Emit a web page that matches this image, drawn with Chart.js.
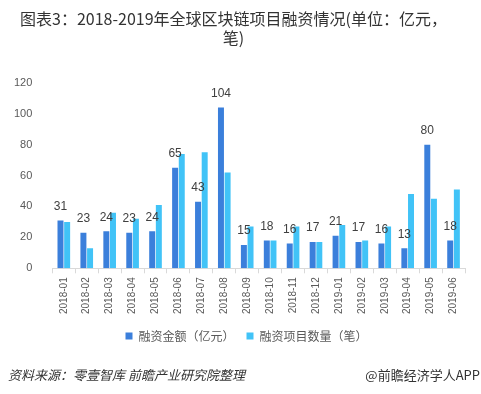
<!DOCTYPE html>
<html>
<head>
<meta charset="utf-8">
<script src="https://cdn.jsdelivr.net/npm/chart.js@4"></script>
<style>
  body { margin: 0; background: #fff; }
  #wrap { position: relative; width: 481px; height: 394px; }
  #source { position: absolute; left: 8px; top: 365px; font: italic 13px "Noto Sans CJK SC", sans-serif; color: #333; }
  #brand { position: absolute; right: 1px; top: 365px; font: 13px "Noto Sans CJK SC", sans-serif; color: #333; }
</style>
</head>
<body>
<div id="wrap">
  <canvas id="myChart" width="481" height="394"></canvas>
  <div id="source">资料来源：零壹智库 前瞻产业研究院整理</div>
  <div id="brand">@前瞻经济学人APP</div>
</div>
<script>
var months = ['2018-01', '2018-02', '2018-03', '2018-04', '2018-05', '2018-06', '2018-07', '2018-08', '2018-09',
    '2018-10', '2018-11', '2018-12', '2019-01', '2019-02', '2019-03', '2019-04', '2019-05', '2019-06'];
var amount = [31, 23, 24, 23, 24, 65, 43, 104, 15, 18, 16, 17, 21, 17, 16, 13, 80, 18];
var projects = [30, 13, 36, 32, 41, 74, 75, 62, 27, 18, 27, 17, 28, 18, 27, 48, 45, 51];
var yTicks = [0, 20, 40, 60, 80, 100, 120];

var seriesNames = ['融资金额（亿元）', '融资项目数量（笔）'];
var fontFamily = '"Noto Sans CJK SC", sans-serif';
var numFont = '"Liberation Sans", Arial, sans-serif';

// numbers above the dark bars only
var barLabels = {
    id: 'barLabels',
    afterDatasetsDraw: function (chart) {
        var ctx = chart.ctx;
        var meta = chart.getDatasetMeta(0);
        ctx.save();
        ctx.font = '12px ' + numFont;
        ctx.fillStyle = '#404040';
        ctx.textAlign = 'center';
        ctx.textBaseline = 'bottom';
        meta.data.forEach(function (bar, i) {
            ctx.fillText(amount[i], bar.x, bar.y - 8);
        });
        ctx.restore();
    }
};

// nudge the legend a bit right, it sits centred on the page in the original
var legendShift = {
    id: 'legendShift',
    afterLayout: function (chart) {
        chart.legend.left += 13;
        chart.legend.right += 13;
    }
};

new Chart('myChart', {
    type: 'bar',
    data: {
        labels: months,
        datasets: [{
            label: seriesNames[0],
            data: amount,
            backgroundColor: '#3b7fdb',
            barPercentage: 0.9,
            categoryPercentage: 0.58
        }, {
            label: seriesNames[1],
            data: projects,
            backgroundColor: '#41c3f7',
            barPercentage: 0.9,
            categoryPercentage: 0.58
        }]
    },
    options: {
        responsive: false,
        animation: false,
        layout: { padding: { left: 2, right: 16, top: 0, bottom: 42 } },
        plugins: {
            title: {
                display: true,
                text: ['图表3：2018-2019年全球区块链项目融资情况(单位：亿元，', '笔)'],
                color: '#333',
                font: { family: fontFamily, size: 16, weight: 'normal', lineHeight: 1.15 },
                padding: { top: 10, bottom: 36 }
            },
            legend: {
                position: 'bottom',
                labels: {
                    color: '#595959',
                    boxWidth: 7,
                    boxHeight: 7,
                    padding: 12,
                    font: { family: fontFamily, size: 12 }
                }
            },
            tooltip: { enabled: false }
        },
        scales: {
            y: {
                min: 0,
                max: 120,
                afterBuildTicks: function (axis) {
                    axis.ticks = yTicks.map(function (v) { return { value: v }; });
                },
                grid: { display: false },
                border: { display: false },
                ticks: { color: '#595959', padding: 12, font: { family: numFont, size: 11 } }
            },
            x: {
                grid: { display: true, drawOnChartArea: false, offset: true, tickLength: 5, color: '#d9d9d9' },
                border: { color: '#d9d9d9' },
                ticks: { color: '#595959', minRotation: 90, maxRotation: 90, padding: 4, font: { family: numFont, size: 10 } }
            }
        }
    },
    plugins: [barLabels, legendShift]
});
</script>
</body>
</html>
